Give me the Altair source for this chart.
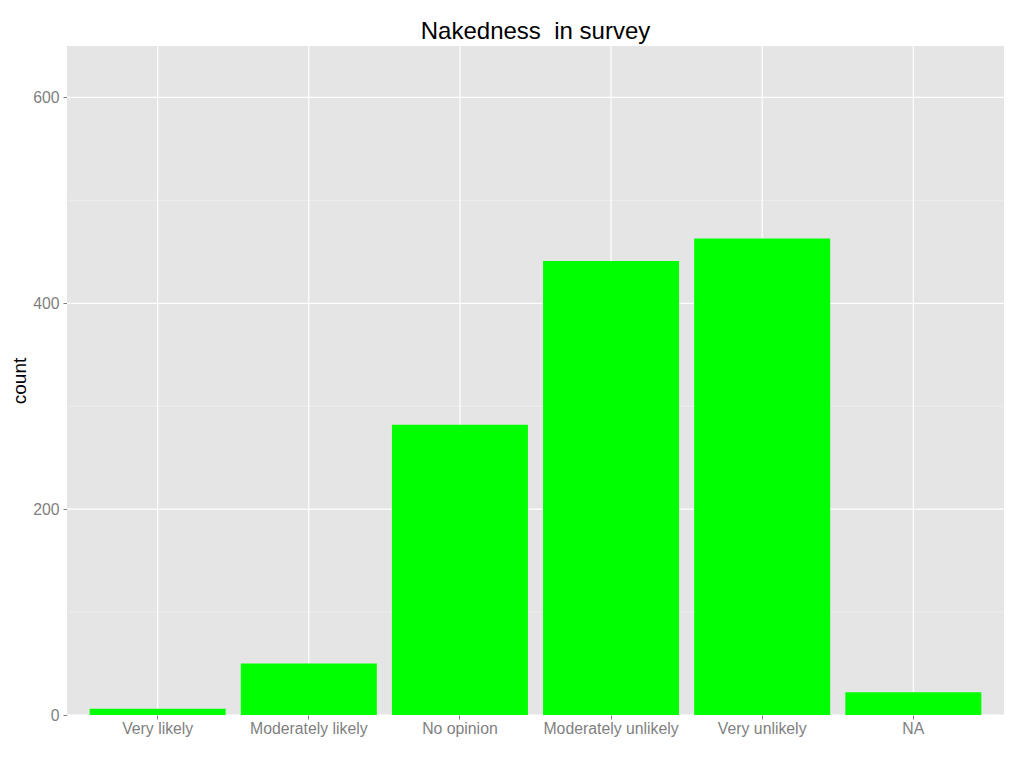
import altair as alt
import pandas as pd

categories = ["Very likely", "Moderately likely", "No opinion",
              "Moderately unlikely", "Very unlikely", "NA"]
counts = [6, 50, 282, 441, 463, 22]
y_major = [0, 200, 400, 600]
y_minor = [100, 300, 500]
title_text = "Nakedness\u00a0 in survey"

FONT = "Liberation Sans"
GREY = "#7F7F7F"

bars_df = pd.DataFrame({"answer": categories, "count": counts})
vgrid_df = pd.DataFrame({"answer": categories})
major_df = pd.DataFrame({"count": y_major})
minor_df = pd.DataFrame({"count": y_minor})

x_scale = alt.Scale(domain=categories, paddingInner=0.1, paddingOuter=0.15)
y_scale = alt.Scale(domain=[0, 650], nice=False, zero=True)

x_axis = alt.Axis(title=None, labelAngle=0, labelFont=FONT, labelFontSize=15.8,
                  labelColor=GREY, tickColor=GREY, tickSize=4, tickWidth=1,
                  domain=False, grid=False, labelPadding=2)
y_axis = alt.Axis(values=y_major, title="count", titleFont=FONT, titleFontSize=19,
                  titleFontWeight="normal", titleColor="black", titlePadding=3,
                  labelFont=FONT, labelFontSize=15.8, labelColor=GREY,
                  tickColor=GREY, tickSize=4, tickWidth=1, domain=False,
                  grid=False, labelPadding=4)

X = alt.X("answer:N", scale=x_scale, sort=categories, axis=x_axis)
Y = alt.Y("count:Q", scale=y_scale, axis=y_axis)

minor = alt.Chart(minor_df).mark_rule(color="#F2F2F2", strokeWidth=0.6).encode(y=Y)
major = alt.Chart(major_df).mark_rule(color="white", strokeWidth=1.2).encode(y=Y)
vgrid = alt.Chart(vgrid_df).mark_rule(color="white", strokeWidth=1.2).encode(x=X)

bars = alt.Chart(bars_df).mark_bar(color="#00FF00").encode(x=X, y=Y)

chart = alt.layer(minor, major, vgrid, bars).properties(
    width=937,
    height=669,
    title=alt.TitleParams(title_text, font=FONT, fontSize=24, fontWeight="normal",
                          color="black", anchor="middle", offset=1),
    autosize=alt.AutoSizeParams(type="none"),
    padding={"left": 59, "top": 38, "right": 12, "bottom": 45},
).configure_view(fill="#E5E5E5", stroke=None)

chart.save("out.html", embed_options={"renderer": "svg", "actions": False})
